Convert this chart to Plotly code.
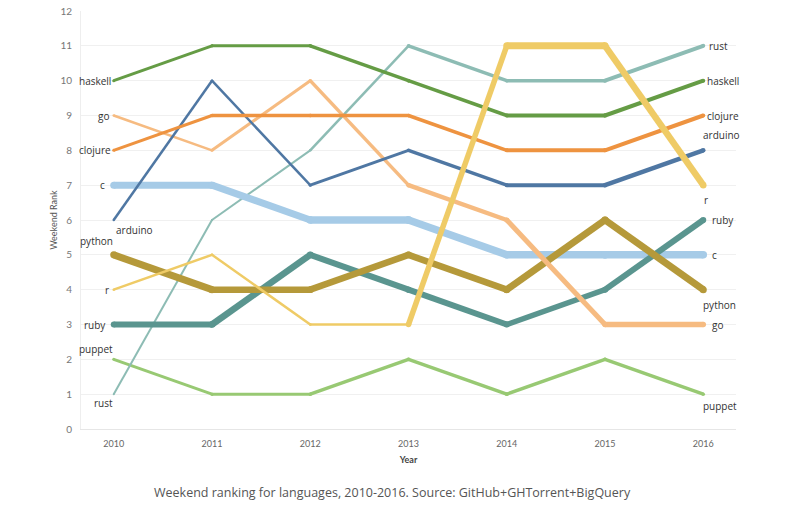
import plotly.graph_objects as go

years = [2010, 2011, 2012, 2013, 2014, 2015, 2016]
languages = ["puppet", "rust", "c", "ruby", "python", "go", "arduino", "clojure", "haskell", "r"]
rank_haskell = [10, 11, 11, 10, 9, 9, 10]
rank_rust = [1, 6, 8, 11, 10, 10, 11]
rank_arduino = [6, 10, 7, 8, 7, 7, 8]
rank_go = [9, 8, 10, 7, 6, 3, 3]
rank_clojure = [8, 9, 9, 9, 8, 8, 9]
rank_c = [7, 7, 6, 6, 5, 5, 5]
rank_python = [5, 4, 4, 5, 4, 6, 4]
rank_r = [4, 5, 3, 3, 11, 11, 7]
rank_ruby = [3, 3, 5, 4, 3, 4, 6]
rank_puppet = [2, 1, 1, 2, 1, 2, 1]
y_ticks = list(range(0, 13))

ranks = {
    "haskell": rank_haskell, "rust": rank_rust, "arduino": rank_arduino, "go": rank_go,
    "clojure": rank_clojure, "c": rank_c, "python": rank_python, "r": rank_r,
    "ruby": rank_ruby, "puppet": rank_puppet,
}

# styles
colors = {
    "haskell": "#659c45", "rust": "#8dbcb4", "arduino": "#4f77a3", "go": "#f6bb81",
    "clojure": "#ee9340", "c": "#a6cbe7", "python": "#b5993a", "r": "#efcb66",
    "ruby": "#5a958f", "puppet": "#98c973",
}
seg_width = {
    "haskell": [3, 3, 3.5, 3.5, 4, 4],
    "rust": [2, 2, 2.5, 3.5, 3.5, 4],
    "arduino": [2.5, 2.5, 3, 3.5, 4, 4.5],
    "go": [2.5, 3, 3.5, 4.5, 5, 5.5],
    "clojure": [3, 3.5, 3.5, 3.5, 4, 4],
    "c": [7, 7, 7.5, 7.5, 7.5, 7.5],
    "python": [7, 6.5, 6.5, 6.5, 7, 7],
    "r": [2.5, 2.5, 2.5, 5.5, 7, 6.5],
    "ruby": [6, 6.5, 6, 6, 5.5, 6],
    "puppet": [3, 3, 3.5, 3.5, 3.5, 3.5],
}
# label placement: (xanchor, xshift, yshift)
left_pos = {
    "haskell": ("right", -1, 0), "go": ("right", -3, 0), "clojure": ("right", -1, 0),
    "c": ("right", -7, 0), "arduino": ("left", 0, -10), "python": ("right", 1, 14),
    "r": ("right", -3, 0), "ruby": ("right", -6, 0), "puppet": ("right", 1, 10),
    "rust": ("right", 1, -9),
}
right_pos = {
    "rust": ("left", 4, 0), "haskell": ("left", 2, 0), "clojure": ("left", 2, 0),
    "arduino": ("left", -2, 15), "r": ("left", -1, -15), "ruby": ("left", 7, 0),
    "c": ("left", 7, 0), "python": ("left", -2, -15), "go": ("left", 7, 0),
    "puppet": ("left", -2, -12),
}

fig = go.Figure()
for lang in languages:
    ys = ranks[lang]
    for i in range(len(years) - 1):
        w = seg_width[lang][i]
        fig.add_trace(go.Scatter(
            x=years[i:i + 2], y=ys[i:i + 2], mode="lines+markers",
            line=dict(color=colors[lang], width=w),
            marker=dict(color=colors[lang], size=w, line=dict(width=0)),
            showlegend=False, hoverinfo="skip", cliponaxis=False,
        ))

lab_font = dict(family="Open Sans, Lato, sans-serif", size=10, color="#333333")
for lang in languages:
    xa, xs, ys_ = left_pos[lang]
    fig.add_annotation(x=years[0], y=ranks[lang][0], text=lang, showarrow=False,
                       xanchor=xa, yanchor="middle", xshift=xs, yshift=ys_, font=lab_font)
    xa, xs, ys_ = right_pos[lang]
    fig.add_annotation(x=years[-1], y=ranks[lang][-1], text=lang, showarrow=False,
                       xanchor=xa, yanchor="middle", xshift=xs, yshift=ys_, font=lab_font)

fig.add_annotation(xref="paper", yref="paper", x=0.475, y=-0.153, yanchor="middle",
                   text="Weekend ranking for languages, 2010-2016. Source: GitHub+GHTorrent+BigQuery",
                   showarrow=False,
                   font=dict(family="Open Sans, Lato, sans-serif", size=12.5, color="#555555"))

fig.update_layout(
    width=800, height=520,
    margin=dict(l=81, r=64, t=11, b=91, autoexpand=False),
    paper_bgcolor="white", plot_bgcolor="white",
    xaxis=dict(range=[2009.667, 2016.333], tickvals=years, ticktext=[str(y) for y in years],
               showgrid=False, zeroline=False, showline=True, linecolor="#e6e6e6",
               automargin=False,
               tickfont=dict(family="Lato, sans-serif", size=9, color="#666666"),
               ticks="", ticklabelstandoff=6,
               title=dict(text="<b>Year</b>", standoff=8,
                          font=dict(family="Lato, sans-serif", size=9, color="#444444"))),
    yaxis=dict(range=[0, 12], tickvals=y_ticks, showgrid=True, gridcolor="#f0f0f0",
               zeroline=False, showline=True, linecolor="#eeeeee",
               automargin=False,
               tickfont=dict(family="Lato, sans-serif", size=10, color="#777777"),
               ticks="", ticklabelstandoff=6,
               title=dict(text="Weekend Rank", standoff=1,
                          font=dict(family="Lato, sans-serif", size=9, color="#555555"))),
)

fig.write_html("out.html", post_script="document.body.style.margin='0';",
               config={"displayModeBar": False})
